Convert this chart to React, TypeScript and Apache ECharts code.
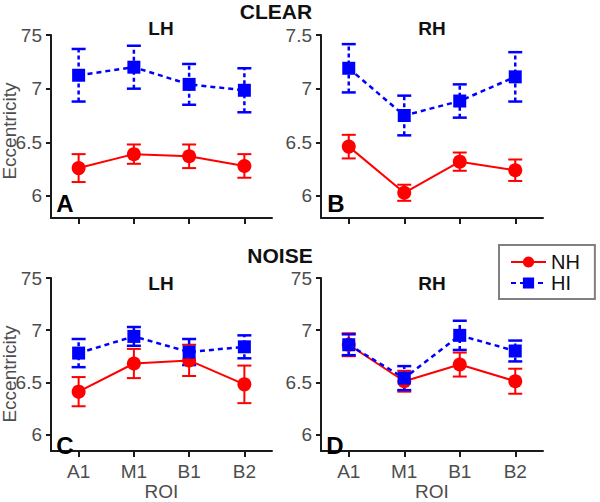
import React, { useEffect, useRef } from "react";
import * as echarts from "echarts";

const FONT = '"Liberation Sans", Arial, Helvetica, sans-serif';

// categories and tick labels
const categories = ["A1", "M1", "B1", "B2"];
const yTickValues = [6, 6.5, 7, 7.5];
const yTickLabelsA = ["6", "6.5", "7", "75"];
const yTickLabelsB = ["6", "6.5", "7", "7.5"];
const yTickLabelsC = ["6", "6.5", "7", "75"];
const yTickLabelsD = ["6", "6.5", "7", "75"];

// CLEAR / LH (panel A)
const clearLhNH = [6.26, 6.39, 6.37, 6.28];
const clearLhNHErr = [0.13, 0.09, 0.11, 0.11];
const clearLhHI = [7.125, 7.2, 7.04, 6.985];
const clearLhHIErr = [0.245, 0.2, 0.19, 0.205];

// CLEAR / RH (panel B)
const clearRhNH = [6.46, 6.03, 6.32, 6.24];
const clearRhNHErr = [0.11, 0.075, 0.085, 0.1];
const clearRhHI = [7.19, 6.75, 6.885, 7.11];
const clearRhHIErr = [0.225, 0.185, 0.155, 0.23];

// NOISE / LH (panel C)
const noiseLhNH = [6.41, 6.68, 6.71, 6.48];
const noiseLhNHErr = [0.14, 0.14, 0.15, 0.18];
const noiseLhHI = [6.78, 6.94, 6.79, 6.84];
const noiseLhHIErr = [0.135, 0.09, 0.125, 0.11];

// NOISE / RH (panel D)
const noiseRhNH = [6.86, 6.51, 6.67, 6.51];
const noiseRhNHErr = [0.11, 0.1, 0.115, 0.12];
const noiseRhHI = [6.86, 6.54, 6.95, 6.8];
const noiseRhHIErr = [0.1, 0.115, 0.14, 0.1];

const RED = "#ff0000";
const BLUE = "#0000ff";
const AXIS = "#1a1a1a";
const TICKTXT = "#4d4d4d";

type Panel = {
  grid: { left: number; top: number; width: number; height: number };
  min: number;
  nh: number[];
  nhErr: number[];
  hi: number[];
  hiErr: number[];
  yLabels: string[];
  showX: boolean;
};

const panels: Panel[] = [
  { grid: { left: 51, top: 35, width: 221, height: 183 }, min: 5.795, nh: clearLhNH, nhErr: clearLhNHErr, hi: clearLhHI, hiErr: clearLhHIErr, yLabels: yTickLabelsA, showX: false },
  { grid: { left: 321, top: 35, width: 222, height: 183 }, min: 5.795, nh: clearRhNH, nhErr: clearRhNHErr, hi: clearRhHI, hiErr: clearRhHIErr, yLabels: yTickLabelsB, showX: false },
  { grid: { left: 51, top: 278, width: 221, height: 181 }, min: 5.84, nh: noiseLhNH, nhErr: noiseLhNHErr, hi: noiseLhHI, hiErr: noiseLhHIErr, yLabels: yTickLabelsC, showX: true },
  { grid: { left: 321, top: 278, width: 222, height: 181 }, min: 5.84, nh: noiseRhNH, nhErr: noiseRhNHErr, hi: noiseRhHI, hiErr: noiseRhHIErr, yLabels: yTickLabelsD, showX: true },
];

function errorSeries(idx: number, means: number[], errs: number[], color: string, dashed: boolean, name: string) {
  return {
    type: "custom",
    name,
    xAxisIndex: idx,
    yAxisIndex: idx,
    silent: true,
    encode: { x: 0, y: [1, 2] },
    data: means.map((m, i) => [i, m - errs[i], m + errs[i]]),
    renderItem: (params: any, api: any) => {
      const i = api.value(0);
      const lo = api.coord([i, api.value(1)]);
      const hi = api.coord([i, api.value(2)]);
      const hw = 7;
      const capStyle: any = { stroke: color, lineWidth: dashed ? 2.5 : 2, fill: null };
      const barStyle: any = { stroke: color, lineWidth: dashed ? 2.5 : 2, fill: null };
      if (dashed) barStyle.lineDash = [4, 3];
      return {
        type: "group",
        children: [
          { type: "line", shape: { x1: lo[0], y1: lo[1], x2: hi[0], y2: hi[1] }, style: barStyle },
          { type: "line", shape: { x1: hi[0] - hw, y1: hi[1], x2: hi[0] + hw, y2: hi[1] }, style: capStyle },
          { type: "line", shape: { x1: lo[0] - hw, y1: lo[1], x2: lo[0] + hw, y2: lo[1] }, style: capStyle },
        ],
      };
    },
  };
}

export default function App() {
  const ref = useRef<HTMLDivElement>(null);

  useEffect(() => {
    if (!ref.current) return;
    const chart = echarts.init(ref.current, null, { renderer: "svg" });

    const grid = panels.map((p) => ({ ...p.grid, containLabel: false }));
    const xAxis = panels.map((p, i) => ({
      type: "category",
      gridIndex: i,
      data: categories,
      boundaryGap: true,
      name: p.showX ? "ROI" : "",
      nameLocation: "middle",
      nameGap: 27,
      nameTextStyle: { fontFamily: FONT, fontSize: 19, color: TICKTXT },
      axisLine: { show: true, lineStyle: { color: AXIS, width: 2 } },
      axisTick: { show: true, alignWithLabel: true, length: 6, lineStyle: { color: AXIS, width: 2 } },
      axisLabel: { show: p.showX, fontFamily: FONT, fontSize: 19, color: TICKTXT, margin: 11 },
      splitLine: { show: false },
    }));
    const yAxis = panels.map((p, i) => ({
      type: "value",
      gridIndex: i,
      min: p.min,
      max: 7.5,
      axisLine: { show: true, lineStyle: { color: AXIS, width: 2 } },
      axisTick: { show: true, length: 5, customValues: yTickValues, lineStyle: { color: AXIS, width: 2 } },
      axisLabel: {
        show: true,
        customValues: yTickValues,
        fontFamily: FONT,
        fontSize: 19,
        color: TICKTXT,
        margin: 9,
        formatter: (v: number) => {
          const k = yTickValues.findIndex((t) => Math.abs(t - v) < 1e-6);
          return k >= 0 ? p.yLabels[k] : "";
        },
      },
      splitLine: { show: false },
    }));

    const series: any[] = [];
    panels.forEach((p, i) => {
      series.push(errorSeries(i, p.nh, p.nhErr, RED, false, "NH err"));
      series.push({
        type: "line",
        name: "NH",
        xAxisIndex: i,
        yAxisIndex: i,
        data: p.nh,
        symbol: "circle",
        symbolSize: 14,
        lineStyle: { color: RED, width: 2 },
        itemStyle: { color: RED },
      });
      series.push(errorSeries(i, p.hi, p.hiErr, BLUE, true, "HI err"));
      series.push({
        type: "line",
        name: "HI",
        xAxisIndex: i,
        yAxisIndex: i,
        data: p.hi,
        symbol: "rect",
        symbolSize: 13,
        lineStyle: { color: BLUE, width: 2.5, type: [5, 4] },
        itemStyle: { color: BLUE },
      });
    });

    const txt = (text: string, x: number, y: number, size: number, bold: boolean, color = "#111", rotation = 0) => ({
      type: "text",
      x,
      y,
      rotation,
      style: {
        text,
        fontFamily: FONT,
        fontSize: size,
        fontWeight: bold ? "bold" : "normal",
        fill: color,
        align: "center",
        verticalAlign: "middle",
      },
      z: 100,
    });

    chart.setOption({
      animation: false,
      backgroundColor: "#ffffff",
      grid,
      xAxis,
      yAxis,
      series,
      legend: {
        data: ["NH", "HI"],
        left: 499,
        top: 245,
        orient: "vertical",
        borderColor: "#808080",
        borderWidth: 2,
        borderRadius: 0,
        backgroundColor: "#ffffff",
        padding: [7, 15, 6, 11],
        itemGap: 1,
        itemWidth: 35,
        itemHeight: 14,
        itemTextGap: 8,
        selectedMode: false,
        textStyle: { fontFamily: FONT, fontSize: 20, color: "#111", lineHeight: 16 },
      },
      graphic: [
        txt("CLEAR", 276, 11, 21, true),
        txt("NOISE", 280, 255, 21, true),
        txt("LH", 161, 28, 19, true),
        txt("RH", 432, 28, 19, true),
        txt("LH", 161, 283, 19, true),
        txt("RH", 432, 283, 19, true),
        txt("A", 65, 203, 24, true, "#000"),
        txt("B", 336, 203, 24, true, "#000"),
        txt("C", 65, 445, 24, true, "#000"),
        txt("D", 335, 445, 24, true, "#000"),
        txt("Eccentricity", 9, 131, 19, false, TICKTXT, Math.PI / 2),
        txt("Eccentricity", 9, 374, 19, false, TICKTXT, Math.PI / 2),
      ],
    });

    return () => chart.dispose();
  }, []);

  return <div ref={ref} style={{ position: "fixed", left: 0, top: 0, width: 600, height: 502 }} />;
}
